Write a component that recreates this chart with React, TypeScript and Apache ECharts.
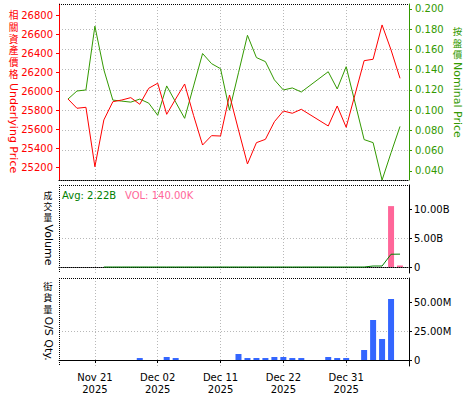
import React, { useEffect, useRef } from "react";
import * as echarts from "echarts";

// ---- categories (weekdays) ----
const dates = [
  "2025-11-17", "2025-11-18", "2025-11-19", "2025-11-20", "2025-11-21",
  "2025-11-24", "2025-11-25", "2025-11-26", "2025-11-27", "2025-11-28",
  "2025-12-01", "2025-12-02", "2025-12-03", "2025-12-04", "2025-12-05",
  "2025-12-08", "2025-12-09", "2025-12-10", "2025-12-11", "2025-12-12",
  "2025-12-15", "2025-12-16", "2025-12-17", "2025-12-18", "2025-12-19",
  "2025-12-22", "2025-12-23", "2025-12-24", "2025-12-25", "2025-12-26",
  "2025-12-29", "2025-12-30", "2025-12-31", "2026-01-01", "2026-01-02",
  "2026-01-05", "2026-01-06", "2026-01-07", "2026-01-08", "2026-01-09",
];
const labelDates = ["2025-11-21", "2025-12-02", "2025-12-11", "2025-12-22", "2025-12-31"];

// ---- series ----
const underlying = [
  null, 25921, 25823, 25833, 25206, 25700, 25892, 25910, 25935, 25865,
  26034, 26087, 25759, 25921, 26079, 25745, 25435, 25534, 25530, 25963,
  25594, 25235, 25460, 25495, 25681, 25794, 25770, 25812, null, null,
  25636, 25847, 25622, null, 26325, 26340, 26702, 26438, 26139, null,
];
const nominal = [
  null, 0.111, 0.119, 0.12, 0.183, 0.14, 0.11, 0.109, 0.108, 0.111,
  0.107, 0.095, 0.124, 0.108, 0.092, 0.124, 0.156, 0.146, 0.141, 0.1,
  0.137, 0.174, 0.152, 0.148, 0.13, 0.12, 0.122, 0.118, null, null,
  0.138, 0.121, 0.143, null, 0.071, 0.068, 0.031, 0.058, 0.084, null,
];
const volume = [
  null, null, null, null, null, null, null, null, null, null,
  null, null, null, null, null, null, null, null, null, null,
  null, null, null, null, null, null, null, null, null, null,
  null, null, null, null, null, null, null, 10.5e9, 140000, null,
];
const avgVolume = [
  null, null, null, null, null, 0, 0, 0, 0, 0,
  0, 0, 0, 0, 0, 0, 0, 0, 0, 0,
  0, 0, 0, 0, 0, 0, 0, 0, null, null,
  0, 0, 0, null, 0, 0.17e9, 0.17e9, 2.2e9, 2.22e9, null,
];
const osQty = [
  null, null, null, null, null, null, null, null, null, 1.7e6,
  null, null, 2.6e6, 1.7e6, null, null, null, null, null, null,
  5.2e6, 1.7e6, 1.7e6, 1.7e6, 2.6e6, 2.6e6, 1.7e6, 1.7e6, null, null,
  2.6e6, 1.7e6, 1.7e6, null, 8.6e6, 34.5e6, 18.1e6, 52.6e6, null, null,
];

// ---- tick labels ----
const priceTicks = [25200, 25400, 25600, 25800, 26000, 26200, 26400, 26600, 26800];
const nominalTicks = [0.04, 0.06, 0.08, 0.1, 0.12, 0.14, 0.16, 0.18, 0.2];
const volumeTicks = [0, 5e9, 10e9];
const osTicks = [0, 25e6, 50e6];

const MONTHS = ["Jan", "Feb", "Mar", "Apr", "May", "Jun", "Jul", "Aug", "Sep", "Oct", "Nov", "Dec"];
const fmtDate = (s: string) => {
  const [y, m, d] = s.split("-");
  return `${MONTHS[Number(m) - 1]} ${d}\n${y}`;
};
const fmtBig = (v: number) => {
  if (v === 0) return "0";
  if (Math.abs(v) >= 1e9) return (v / 1e9).toFixed(2) + "B";
  if (Math.abs(v) >= 1e6) return (v / 1e6).toFixed(2) + "M";
  if (Math.abs(v) >= 1e3) return (v / 1e3).toFixed(2) + "K";
  return String(v);
};

const FONT = "DejaVu Sans";
const CJK = '"DejaVu Sans", "Noto Sans CJK TC"';
const RED = "#ff0000";
const GREEN = "#339900";
const DKGREEN = "#008000";
const PINK = "#ff6699";
const BLUE = "#3366ff";
const GRID = "#b8b8b8";

const L = 59, W = 350;
const grids = [
  { top: 4, height: 176 },
  { top: 185, height: 88 },
  { top: 278, height: 88 },
];

const showIdx = (i: number) => labelDates.includes(dates[i]);

function xAxis(i: number) {
  const last = i === 2;
  return {
    type: "category",
    gridIndex: i,
    data: dates,
    boundaryGap: false,
    axisLine: { show: true, lineStyle: { color: "#000", width: 1, type: last ? "solid" : [1, 1] } },
    axisTick: { show: last, interval: (idx: number) => showIdx(idx), length: 3, lineStyle: { color: "#000" } },
    axisLabel: {
      show: last,
      interval: (idx: number) => showIdx(idx),
      formatter: (v: string) => fmtDate(v),
      color: "#000",
      fontSize: 10,
      fontFamily: FONT,
      lineHeight: 11.5,
      margin: 6,
    },
    splitLine: { show: true, interval: (idx: number) => showIdx(idx), lineStyle: { color: GRID, type: [1, 2] } },
  };
}

export default function App() {
  const ref = useRef<HTMLDivElement>(null);
  useEffect(() => {
    if (!ref.current) return;
    const chart = echarts.init(ref.current, undefined, { renderer: "svg" });
    const lastAvg = avgVolume.filter((v) => v != null).slice(-1)[0] as number;
    const lastVol = volume.filter((v) => v != null).slice(-1)[0] as number;

    const dotted = (x1: number, y1: number, x2: number, y2: number) => ({
      type: "line",
      z: 50,
      shape: { x1, y1, x2, y2 },
      style: { stroke: "#000", lineWidth: 1, lineDash: [1, 1] },
    });
    const cjk = (x: number, y: number, text: string, color: string, pitch: number, size: number) =>
      text.split("").map((ch, i) => ({
        type: "text",
        x,
        y: y + i * pitch,
        style: { text: ch, fill: color, fontSize: size, fontFamily: CJK, align: "center", verticalAlign: "top" },
      }));
    const rot = (x: number, y: number, text: string, color: string) => ({
      type: "text",
      x,
      y,
      rotation: -Math.PI / 2,
      style: { text, fill: color, fontSize: 11, fontFamily: FONT, align: "left", verticalAlign: "middle" },
    });

    chart.setOption({
      animation: false,
      backgroundColor: "#fff",
      grid: grids.map((g) => ({ left: L, width: W, top: g.top, height: g.height })),
      xAxis: [xAxis(0), xAxis(1), xAxis(2)],
      yAxis: [
        {
          type: "value",
          gridIndex: 0,
          position: "left",
          min: 25066,
          max: 26923,
          splitNumber: 9,
          minInterval: 200,
          maxInterval: 200,
          axisLine: { show: true, lineStyle: { color: RED } },
          axisTick: { show: true, length: 3, lineStyle: { color: RED }, customValues: priceTicks },
          axisLabel: { color: RED, fontSize: 10, fontFamily: FONT, margin: 6, customValues: priceTicks, formatter: (v: number) => String(v) },
          splitLine: { show: false },
        },
        {
          type: "value",
          gridIndex: 0,
          position: "right",
          min: 0.0311,
          max: 0.2049,
          splitNumber: 8,
          minInterval: 0.02,
          maxInterval: 0.02,
          axisLine: { show: true, lineStyle: { color: GREEN } },
          axisTick: { show: true, length: 3, lineStyle: { color: GREEN }, customValues: nominalTicks },
          axisLabel: { color: GREEN, fontSize: 10, fontFamily: FONT, margin: 6, customValues: nominalTicks, formatter: (v: number) => v.toFixed(3) },
          splitLine: { show: true, showMinLine: false, showMaxLine: false, lineStyle: { color: GRID, type: [1, 2] } },
        },
        {
          type: "value",
          gridIndex: 1,
          position: "right",
          min: -1.034e9,
          max: 14.14e9,
          splitNumber: 3,
          minInterval: 5e9,
          maxInterval: 5e9,
          axisLine: { show: true, lineStyle: { color: "#000" } },
          axisTick: { show: true, length: 3, lineStyle: { color: "#000" }, customValues: volumeTicks },
          axisLabel: { color: "#000", fontSize: 10, fontFamily: FONT, margin: 5, customValues: volumeTicks, formatter: fmtBig },
          splitLine: { show: true, showMinLine: false, showMaxLine: false, lineStyle: { color: GRID, type: [1, 2] } },
        },
        {
          type: "value",
          gridIndex: 2,
          position: "right",
          min: -5.17e6,
          max: 70.69e6,
          splitNumber: 3,
          minInterval: 25e6,
          maxInterval: 25e6,
          axisLine: { show: true, lineStyle: { color: "#000" } },
          axisTick: { show: true, length: 3, lineStyle: { color: "#000" }, customValues: osTicks },
          axisLabel: { color: "#000", fontSize: 10, fontFamily: FONT, margin: 5, customValues: osTicks, formatter: fmtBig },
          splitLine: { show: true, showMinLine: false, showMaxLine: false, lineStyle: { color: GRID, type: [1, 2] } },
        },
      ],
      series: [
        {
          type: "line", xAxisIndex: 0, yAxisIndex: 0, data: underlying, connectNulls: true, showSymbol: false,
          lineStyle: { color: RED, width: 1 }, itemStyle: { color: RED }, z: 3,
        },
        {
          type: "line", xAxisIndex: 0, yAxisIndex: 1, data: nominal, connectNulls: true, showSymbol: false,
          lineStyle: { color: GREEN, width: 1 }, itemStyle: { color: GREEN }, z: 2,
        },
        {
          type: "bar", xAxisIndex: 1, yAxisIndex: 2, data: volume, barWidth: 6, barMinHeight: 1.5,
          itemStyle: { color: PINK },
        },
        {
          type: "line", xAxisIndex: 1, yAxisIndex: 2, data: avgVolume, connectNulls: true, showSymbol: false,
          lineStyle: { color: DKGREEN, width: 1 }, itemStyle: { color: DKGREEN }, z: 4,
        },
        {
          type: "bar", xAxisIndex: 2, yAxisIndex: 3, data: osQty, barWidth: 6,
          itemStyle: { color: BLUE },
        },
      ],
      graphic: [
        dotted(L, 4.5, L + W, 4.5),
        dotted(L, 185.5, L + W, 185.5),
        dotted(L, 278.5, L + W, 278.5),
        dotted(L + 0.5, 185, L + 0.5, 273),
        dotted(L + 0.5, 278, L + 0.5, 366),
        ...cjk(13.5, 11, "相關資產價格", RED, 11.7, 9.7),
        rot(13.5, 83, "Underlying Price", RED),
        ...cjk(457.5, 27, "按盤價", GREEN, 11.4, 9.5),
        rot(457.5, 62, "Nominal Price", GREEN),
        ...cjk(48, 192, "成交量", "#000", 10.6, 8.8),
        rot(48, 224.5, "Volume", "#000"),
        ...cjk(48, 282, "街貨量", "#000", 11.2, 9.3),
        rot(48, 316.5, "O/S Qty.", "#000"),
        {
          type: "text", x: 62, y: 195,
          style: { text: "Avg: " + fmtBig(lastAvg), fill: DKGREEN, fontSize: 10, fontFamily: FONT, verticalAlign: "middle" },
        },
        {
          type: "text", x: 125, y: 195,
          style: { text: "VOL: " + fmtBig(lastVol), fill: PINK, fontSize: 10, fontFamily: FONT, verticalAlign: "middle" },
        },
      ],
    });
    return () => chart.dispose();
  }, []);
  return <div ref={ref} style={{ position: "absolute", left: 0, top: 0, width: 475, height: 400 }} />;
}
